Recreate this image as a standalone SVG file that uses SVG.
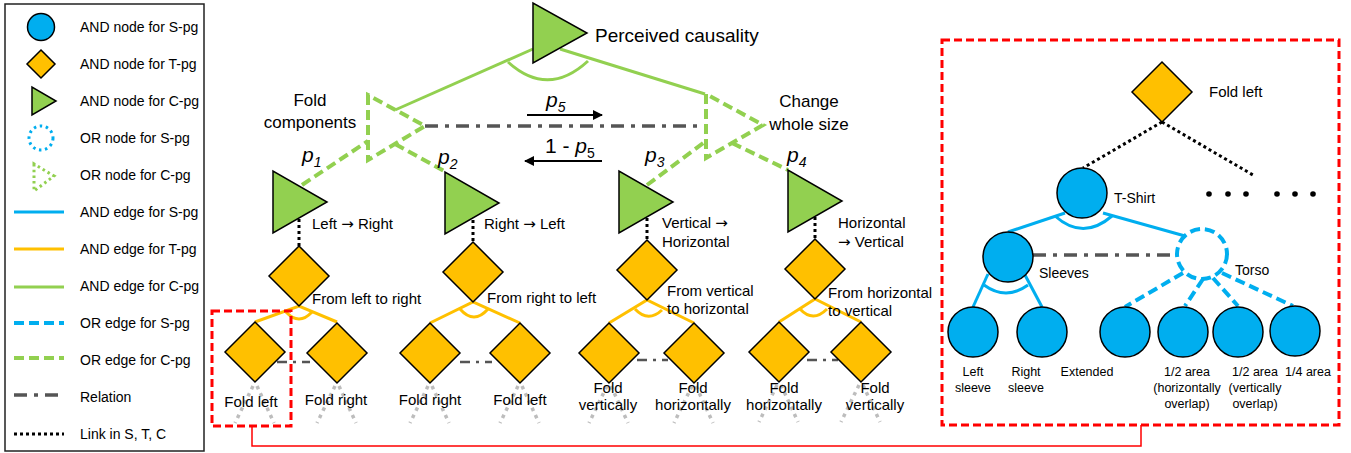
<svg xmlns="http://www.w3.org/2000/svg" width="1351" height="453" viewBox="0 0 1351 453">
<defs>
<style>
text{font-family:"Liberation Sans",Arial,sans-serif;fill:#000}
.ar{font-family:"DejaVu Sans",sans-serif}
.lg{font-size:14px}
.lab{font-size:15px}
.leaf{font-size:15px;text-anchor:middle}
.sm{font-size:12.5px;text-anchor:middle}
.or{font-size:17px;text-anchor:middle}
.p{font-size:21px;font-style:italic}
.cn{fill:#92D050;stroke:#000;stroke-width:1.5}
.tn{fill:#FFC000;stroke:#000;stroke-width:1.5}
.sn{fill:#00AEEF;stroke:#000;stroke-width:1.5}
.as{stroke:#00AEEF;stroke-width:3;fill:none}
.at{stroke:#FFC000;stroke-width:3;fill:none}
.ac{stroke:#92D050;stroke-width:3;fill:none}
.os{stroke:#00AEEF;stroke-width:4;stroke-dasharray:10 5;fill:none}
.oc{stroke:#92D050;stroke-width:4;stroke-dasharray:10 5;fill:none}
.rel{stroke:#555;stroke-width:3.5;stroke-dasharray:13 7 4 7;fill:none}
.rel2{stroke:#555;stroke-width:2.5;stroke-dasharray:10 6 3 6;fill:none}
.lnk{stroke:#000;stroke-width:3;stroke-dasharray:3 3;fill:none}
.lnkg{stroke:#bdbdbd;stroke-width:3.5;stroke-dasharray:3.5 4.5;fill:none}
.red{stroke:#F00;stroke-width:3;stroke-dasharray:8 4;fill:none}
</style>
<marker id="ah" viewBox="0 0 10 10" refX="9" refY="5" markerWidth="5" markerHeight="5" orient="auto" markerUnits="strokeWidth">
<path d="M0,0 L10,5 L0,10 z" fill="#000"/>
</marker>
</defs>
<rect width="1351" height="453" fill="#fff"/>

<g id="legend">
<rect x="5" y="4" width="199" height="447" fill="none" stroke="#222" stroke-width="1.5"/>
<circle cx="41" cy="27" r="13.5" class="sn"/>
<polygon points="41,50 55,64 41,78 27,64" class="tn"/>
<polygon points="32,87 32,115 56,101" class="cn"/>
<circle cx="41" cy="138" r="12" fill="none" stroke="#00AEEF" stroke-width="3" stroke-dasharray="2.5 3.6"/>
<polygon points="34,164 34,191 54,176" fill="none" stroke="#92D050" stroke-width="3" stroke-dasharray="2.5 3.2"/>
<line x1="14" y1="212" x2="64" y2="212" class="as" stroke-width="4.5"/>
<line x1="14" y1="249" x2="64" y2="249" class="at" stroke-width="4.5"/>
<line x1="14" y1="287" x2="64" y2="287" class="ac" stroke-width="4.5"/>
<line x1="14" y1="323" x2="64" y2="323" class="os" stroke-width="4.5" stroke-dasharray="14 4"/>
<line x1="14" y1="358" x2="64" y2="358" class="oc" stroke-width="4.5" stroke-dasharray="14 4"/>
<line x1="14" y1="395" x2="64" y2="395" class="rel" stroke-width="3" stroke-dasharray="2 9 10 8"/>
<line x1="14" y1="434" x2="64" y2="434" class="lnk" stroke-dasharray="3 3"/>
<text class="lg" x="80" y="32">AND node for S-pg</text>
<text class="lg" x="80" y="69">AND node for T-pg</text>
<text class="lg" x="80" y="106">AND node for C-pg</text>
<text class="lg" x="80" y="143">OR node for S-pg</text>
<text class="lg" x="80" y="180">OR node for C-pg</text>
<text class="lg" x="80" y="217">AND edge for S-pg</text>
<text class="lg" x="80" y="254">AND edge for T-pg</text>
<text class="lg" x="80" y="291">AND edge for C-pg</text>
<text class="lg" x="80" y="328">OR edge for S-pg</text>
<text class="lg" x="80" y="365">OR edge for C-pg</text>
<text class="lg" x="80" y="402">Relation</text>
<text class="lg" x="80" y="439">Link in S, T, C</text>
</g>

<g id="connectors">
<line x1="533" y1="49" x2="395" y2="110" class="ac"/>
<line x1="560" y1="49" x2="705" y2="94" class="ac"/>
<path d="M508,62 Q548,98 588,61" class="ac"/>
<line x1="302" y1="185" x2="368" y2="141" class="oc"/>
<line x1="395" y1="144" x2="446" y2="172" class="oc"/>
<line x1="647" y1="185" x2="706" y2="141" class="oc"/>
<line x1="732" y1="143" x2="788" y2="170" class="oc"/>
<line x1="425" y1="126" x2="706" y2="126" class="rel"/>
<line x1="527" y1="115" x2="602" y2="115" stroke="#000" stroke-width="2" marker-end="url(#ah)"/>
<line x1="602" y1="161" x2="525" y2="161" stroke="#000" stroke-width="2" marker-end="url(#ah)"/>
<line x1="299" y1="219" x2="299" y2="246" class="lnk"/>
<line x1="473" y1="220" x2="473" y2="242" class="lnk"/>
<line x1="647" y1="218" x2="647" y2="240" class="lnk"/>
<line x1="815" y1="217" x2="815" y2="239" class="lnk"/>
<polyline points="255,322 299,306 337,322" class="at"/>
<path d="M286,312 Q299,326 312,312" class="at"/>
<polyline points="430,323 473,302 520,323" class="at"/>
<path d="M460,309 Q474,325 488,309" class="at"/>
<polyline points="609,323 647,300 694,323" class="at"/>
<path d="M635,309 Q648,323 662,310" class="at"/>
<polyline points="779,322 815,299 861,322" class="at"/>
<path d="M800,309 Q813,323 827,309" class="at"/>
<line x1="277" y1="362" x2="310" y2="362" class="rel2"/>
<line x1="460" y1="362" x2="492" y2="362" class="rel2"/>
<line x1="637" y1="360" x2="668" y2="360" class="rel2"/>
<line x1="807" y1="360" x2="838" y2="360" class="rel2"/>
<path d="M253,386 L235,423 M257,386 L274,423" class="lnkg"/>
<path d="M335,386 L317,423 M339,386 L356,423" class="lnkg"/>
<path d="M428,386 L410,423 M432,386 L449,423" class="lnkg"/>
<path d="M518,386 L500,423 M522,386 L539,423" class="lnkg"/>
<path d="M607,386 L589,423 M611,386 L628,423" class="lnkg"/>
<path d="M692,386 L674,423 M696,386 L713,423" class="lnkg"/>
<path d="M777,385 L759,422 M781,385 L798,422" class="lnkg"/>
<path d="M859,385 L841,422 M863,385 L880,422" class="lnkg"/>
<polyline points="252,426 252,446 1141,446 1141,425" fill="none" stroke="#F00" stroke-width="1.5"/>
<line x1="1162" y1="122" x2="1083" y2="168" class="lnk"/>
<line x1="1162" y1="122" x2="1253" y2="175" class="lnk"/>
<line x1="1065" y1="213" x2="1008" y2="232" class="as"/>
<line x1="1103" y1="213" x2="1185" y2="236" class="as"/>
<path d="M1055,216 Q1083,241 1112,216" class="as"/>
<line x1="988" y1="274" x2="973" y2="307" class="as"/>
<line x1="1025" y1="275" x2="1042" y2="307" class="as"/>
<path d="M984,285 Q1006,301 1028,285" class="as"/>
<line x1="1033" y1="255" x2="1177" y2="255" class="rel"/>
<line x1="1183" y1="273" x2="1125" y2="307" class="os"/>
<line x1="1203" y1="279" x2="1185" y2="306" class="os"/>
<line x1="1213" y1="278" x2="1238" y2="306" class="os"/>
<line x1="1222" y1="273" x2="1293" y2="306" class="os"/>
</g>

<g id="perceived-causality">
<polygon points="533,3 533,63 587,33" class="cn"/>
<text x="595" y="42" font-size="19">Perceived causality</text>
</g>
<g id="fold-components">
<polygon points="368,95 368,160 425,126" class="oc"/>
<text class="or" x="310" y="106">Fold</text>
<text class="or" x="310" y="128">components</text>
</g>
<g id="change-whole-size">
<polygon points="706,94 706,158 763,125" class="oc"/>
<text class="or" x="809" y="107">Change</text>
<text class="or" x="809" y="130">whole size</text>
</g>
<g id="p-labels">
<text class="p" x="546" y="107">p<tspan font-size="14" dy="5">5</tspan></text>
<text x="545" y="153" font-size="21">1 - <tspan font-style="italic">p</tspan><tspan font-size="14" dy="5">5</tspan></text>
<text class="p" x="302" y="162">p<tspan font-size="14" dy="5">1</tspan></text>
<text class="p" x="438" y="164">p<tspan font-size="14" dy="5">2</tspan></text>
<text class="p" x="645" y="162">p<tspan font-size="14" dy="5">3</tspan></text>
<text class="p" x="787" y="162">p<tspan font-size="14" dy="5">4</tspan></text>
</g>

<g id="left-right">
<polygon points="273,171 273,233 327,202" class="cn"/>
<text class="lab" x="312" y="229">Left <tspan class="ar">→</tspan> Right</text>
</g>
<g id="right-left">
<polygon points="445,172 445,234 499,203" class="cn"/>
<text class="lab" x="484" y="229">Right <tspan class="ar">→</tspan> Left</text>
</g>
<g id="vertical-horizontal">
<polygon points="619,171 619,233 673,202" class="cn"/>
<text class="lab" x="662" y="228">Vertical <tspan class="ar">→</tspan></text>
<text class="lab" x="662" y="247">Horizontal</text>
</g>
<g id="horizontal-vertical">
<polygon points="788,170 788,232 842,201" class="cn"/>
<text class="lab" x="838" y="228">Horizontal</text>
<text class="lab" x="838" y="247"><tspan class="ar">→</tspan> Vertical</text>
</g>

<g id="from-left-to-right">
<polygon points="299,246 329,276 299,306 269,276" class="tn"/>
<text class="lab" x="312" y="304">From left to right</text>
</g>
<g id="from-right-to-left">
<polygon points="473,242 503,272 473,302 443,272" class="tn"/>
<text class="lab" x="487" y="303">From right to left</text>
</g>
<g id="from-vertical-to-horizontal">
<polygon points="647,240 677,270 647,300 617,270" class="tn"/>
<text class="lab" x="667" y="296">From vertical</text>
<text class="lab" x="667" y="314">to horizontal</text>
</g>
<g id="from-horizontal-to-vertical">
<polygon points="815,239 845,269 815,299 785,269" class="tn"/>
<text class="lab" x="828" y="298">From horizontal</text>
<text class="lab" x="828" y="316">to vertical</text>
</g>

<g id="leaf-1"><polygon points="255,322 285,352 255,382 225,352" class="tn"/><text class="leaf" x="251" y="407">Fold left</text></g>
<g id="leaf-2"><polygon points="337,323 367,353 337,383 307,353" class="tn"/><text class="leaf" x="336" y="405">Fold right</text></g>
<g id="leaf-3"><polygon points="430,323 460,353 430,383 400,353" class="tn"/><text class="leaf" x="430" y="405">Fold right</text></g>
<g id="leaf-4"><polygon points="520,323 550,353 520,383 490,353" class="tn"/><text class="leaf" x="520" y="405">Fold left</text></g>
<g id="leaf-5"><polygon points="609,323 639,353 609,383 579,353" class="tn"/><text class="leaf" x="608" y="393">Fold</text><text class="leaf" x="608" y="410">vertically</text></g>
<g id="leaf-6"><polygon points="694,323 724,353 694,383 664,353" class="tn"/><text class="leaf" x="693" y="393">Fold</text><text class="leaf" x="693" y="410">horizontally</text></g>
<g id="leaf-7"><polygon points="779,322 809,352 779,382 749,352" class="tn"/><text class="leaf" x="784" y="393">Fold</text><text class="leaf" x="784" y="410">horizontally</text></g>
<g id="leaf-8"><polygon points="861,322 891,352 861,382 831,352" class="tn"/><text class="leaf" x="875" y="393">Fold</text><text class="leaf" x="875" y="410">vertically</text></g>

<g id="highlight-box">
<rect x="212" y="311" width="79" height="115" class="red"/>
</g>

<g id="detail-box">
<rect x="942" y="40" width="397" height="385" class="red"/>
</g>
<g id="fold-left-detail">
<polygon points="1162,62 1192,92 1162,122 1132,92" class="tn"/>
<text x="1209" y="97" font-size="15">Fold left</text>
</g>
<g id="ellipsis">
<circle cx="1209" cy="194" r="2.8"/><circle cx="1228" cy="194" r="2.8"/><circle cx="1246" cy="194" r="2.8"/>
<circle cx="1277" cy="194" r="2.8"/><circle cx="1295" cy="194" r="2.8"/><circle cx="1313" cy="194" r="2.8"/>
</g>
<g id="t-shirt">
<circle cx="1082" cy="193" r="25" class="sn"/>
<text x="1114" y="203" font-size="14">T-Shirt</text>
</g>
<g id="sleeves">
<circle cx="1008" cy="257" r="25" class="sn"/>
<text x="1039" y="278" font-size="14">Sleeves</text>
</g>
<g id="torso">
<circle cx="1202" cy="254" r="25" fill="#fff" class="os"/>
<text x="1235" y="275" font-size="14">Torso</text>
</g>
<g id="left-sleeve"><circle cx="973" cy="332" r="25" class="sn"/><text class="sm" x="973" y="376">Left</text><text class="sm" x="973" y="392">sleeve</text></g>
<g id="right-sleeve"><circle cx="1042" cy="332" r="25" class="sn"/><text class="sm" x="1026" y="376">Right</text><text class="sm" x="1026" y="392">sleeve</text></g>
<g id="extended"><circle cx="1125" cy="332" r="25" class="sn"/><text class="sm" x="1087" y="376">Extended</text></g>
<g id="half-h"><circle cx="1183" cy="332" r="25" class="sn"/><text class="sm" x="1187" y="376">1/2 area</text><text class="sm" x="1187" y="392">(horizontally</text><text class="sm" x="1187" y="408">overlap)</text></g>
<g id="half-v"><circle cx="1238" cy="332" r="25" class="sn"/><text class="sm" x="1255" y="376">1/2 area</text><text class="sm" x="1255" y="392">(vertically</text><text class="sm" x="1255" y="408">overlap)</text></g>
<g id="quarter"><circle cx="1295" cy="331" r="25" class="sn"/><text class="sm" x="1308" y="376">1/4 area</text></g>
</svg>
